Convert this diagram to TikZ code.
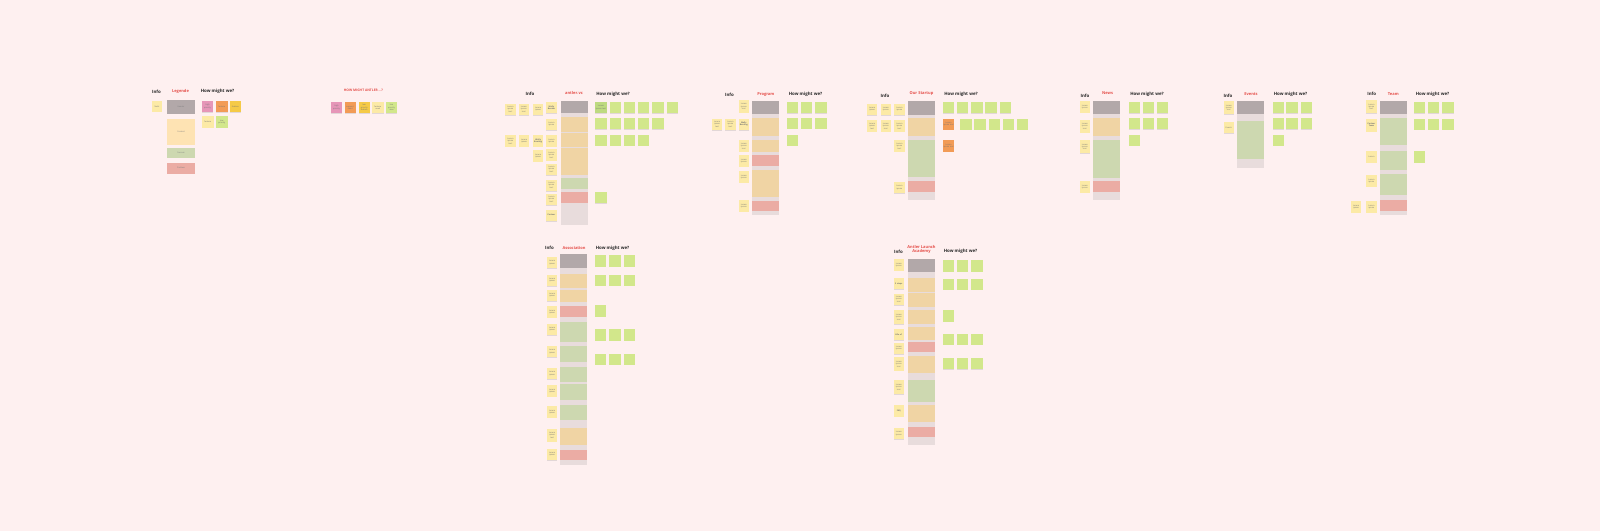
\documentclass[tikz,border=0pt]{standalone}
\usepackage{fontspec}
\setmainfont{Open Sans}
\usetikzlibrary{shadows}
\definecolor{bg}{HTML}{FEF0F0}
\definecolor{colbg}{HTML}{E8DCDC}
\definecolor{hdr}{HTML}{B2A8A9}
\definecolor{tan}{HTML}{F0D4A4}
\definecolor{sage}{HTML}{CDD8B0}
\definecolor{rose}{HTML}{EBACA4}
\definecolor{legtan}{HTML}{FEE3B3}
\definecolor{yel}{HTML}{FCEAA6}
\definecolor{lime}{HTML}{D2E78B}
\definecolor{limed}{HTML}{BEDA80}
\definecolor{orn}{HTML}{F29B56}
\definecolor{pnk}{HTML}{E696B8}
\definecolor{gold}{HTML}{F5CA47}
\definecolor{titlered}{HTML}{E5504B}
\newcommand\bcol[3]{\fill[colbg] (#1,#2) rectangle ({#1+27},#3);}
\newcommand\bsec[4]{\fill[#1] (#2,#3) rectangle ({#2+27},#4);}
\begin{document}
\begin{tikzpicture}[x=1pt,y=-1pt,
  ttl/.style={font=\fontsize{4.4}{5}\selectfont\bfseries, text=black!85, inner sep=0},
  rttl/.style={font=\fontsize{4}{4.6}\selectfont\bfseries, text=titlered, inner sep=0, align=center},
  stk/.style={anchor=north west, inner sep=0.3pt, align=center, font=\fontsize{2}{2.4}\selectfont, text=black!55,
    drop shadow={shadow xshift=0pt,shadow yshift=-0.5pt,opacity=0.22}},
  inf/.style={stk, fill=yel, minimum width=10.5pt, minimum height=11.5pt, text width=9.5pt},
  hmw/.style={stk, fill=lime, minimum width=11.3pt, minimum height=11.3pt, text width=10.5pt},
  lg/.style={anchor=north west, inner sep=0, font=\fontsize{2}{2.4}\selectfont, text=black!50, minimum width=28.3pt}
]
\useasboundingbox (0,0) rectangle (1600,531);
\fill[bg] (0,0) rectangle (1600,531);

% ---------------- Legend ----------------
\node[ttl] (lgi) at (156.5,91.5) {Info};
\node[rttl] (lgt) at (180.5,91.5) {Legende};
\node[ttl] (lgh) at (217.5,91.5) {How might we?};
\node[inf, minimum width=10pt, minimum height=11pt] (lgn) at (151.7,100.7) {Notiz};
\node[lg, fill=hdr, minimum height=13.3pt] (lg1) at (166.7,100) {Header};
\node[lg, fill=legtan, minimum height=26pt] (lg2) at (166.7,119) {Content};
\node[lg, fill=sage, minimum height=10pt] (lg3) at (166.7,148) {Success};
\node[lg, fill=rose, minimum height=10.6pt] (lg4) at (166.7,162.7) {Problem};
\node[hmw, fill=pnk] (lgp) at (201.7,100.7) {high priority};
\node[hmw, fill=orn] (lgo) at (216,100.7) {feature};
\node[hmw, fill=gold] (lgg) at (229.5,100.7) {feature};
\node[hmw, fill=yel] (lgy) at (202,116) {feature};
\node[hmw] (lgl) at (216,116) {low priority};

% ---------------- How might Antler ----------------
\node[font=\fontsize{3.3}{4}\selectfont\bfseries, text=titlered, inner sep=0] (hma) at (363.5,90.7) {HOW MIGHT ANTLER ...?};
\node[hmw, fill=pnk] (hm1) at (330.7,101.7) {high priority};
\node[hmw, fill=orn] (hm2) at (344.3,101.7) {support need};
\node[hmw, fill=gold] (hm3) at (358.3,101.7) {low priority feature};
\node[hmw, fill=yel] (hm4) at (372,101.7) {feature need};
\node[hmw] (hm5) at (385.7,101.7) {low priority idea};

% ---------------- Board 1 : antler.vc ----------------
\node[ttl] (b1i) at (530,94) {Info};
\node[rttl] (b1t) at (574,93.5) {antler.vc};
\node[ttl] (b1h) at (613,94) {How might we?};
\bcol{560.7}{100.7}{225}
\bsec{hdr}{560.7}{100.7}{113.3}
\bsec{tan}{560.7}{117.3}{131.7}
\bsec{tan}{560.7}{133.3}{146.7}
\bsec{tan}{560.7}{148.3}{175}
\bsec{sage}{560.7}{178.3}{189}
\bsec{rose}{560.7}{192.3}{203.3}
\node[inf] (b1a1) at (505,103.3) {Lorem ipsum text};
\node[inf] (b1a2) at (518.3,103.3) {Lorem ipsum text};
\node[inf] (b1a3) at (532.7,103.3) {Lorem ipsum};
\node[inf] (b1a4) at (546,101.7) {\textbf{Wally Bunker}};
\node[inf] (b1b4) at (546,118.3) {Lorem ipsum};
\node[inf] (b1c1) at (505,135) {Lorem ipsum text};
\node[inf] (b1c2) at (518.7,135) {Lorem ipsum};
\node[inf] (b1c3) at (532.7,135) {\textbf{Wally Bunting}};
\node[inf] (b1c4) at (546,135) {Lorem ipsum};
\node[inf] (b1d3) at (532.7,150) {Lorem ipsum};
\node[inf] (b1d4) at (546,149) {Lorem ipsum text};
\node[inf] (b1e4) at (546,163.3) {Lorem ipsum text};
\node[inf] (b1f4) at (546,179.3) {Lorem ipsum text};
\node[inf] (b1g4) at (546,193.3) {Lorem ipsum text};
\node[inf] (b1h4) at (546,209.3) {\textbf{Partner}};
\node[hmw, fill=limed] (b1h0) at (595,101.7) {Lorem ipsum text};
\foreach \x [count=\i] in {609.3,623.6,637.9,652.2,666.5} \node[hmw] (b1r1n\i) at (\x,101.7) {};
\foreach \x [count=\i] in {595,609.3,623.6,637.9,652.2} \node[hmw] (b1r2n\i) at (\x,117.7) {};
\foreach \x [count=\i] in {595,609.3,623.6,637.9} \node[hmw] (b1r3n\i) at (\x,134.3) {};
\node[hmw] (b1r4n1) at (595,191.7) {};

% ---------------- Program ----------------
\node[ttl] (b2i) at (729.5,95) {Info};
\node[rttl] (b2t) at (765.8,94.3) {Program};
\node[ttl] (b2h) at (805.5,94.3) {How might we?};
\bcol{752.3}{100.7}{215}
\bsec{hdr}{752.3}{100.7}{114.3}
\bsec{tan}{752.3}{118.3}{135.7}
\bsec{tan}{752.3}{140}{151.7}
\bsec{rose}{752.3}{155}{165.7}
\bsec{tan}{752.3}{170}{196.7}
\bsec{rose}{752.3}{200.7}{211}
\node[inf, minimum height=12.3pt] (b2a) at (738.3,100) {Lorem ipsum text};
\node[inf] (b2b) at (738.3,118.3) {\textbf{Wally Bunting}};
\node[inf] (b2c) at (738.3,140) {Lorem ipsum text};
\node[inf] (b2d) at (738.3,155) {Lorem ipsum};
\node[inf] (b2e) at (738.3,171) {Lorem ipsum};
\node[inf] (b2f) at (738.3,200) {Lorem ipsum};
\node[inf] (b2g) at (711.7,118.3) {Lorem ipsum text};
\node[inf] (b2h2) at (725,118.3) {Lorem ipsum text};
\foreach \x [count=\i] in {786.7,800.7,815} \node[hmw] (b2r1n\i) at (\x,101.7) {};
\foreach \x [count=\i] in {786.7,800.7,815} \node[hmw] (b2r2n\i) at (\x,117.3) {};
\node[hmw] (b2r3n1) at (786.7,134.3) {};

% ---------------- Our Startup ----------------
\node[ttl] (b3i) at (885,96) {Info};
\node[rttl] (b3t) at (921.5,93.3) {Our Startup};
\node[ttl] (b3h) at (961,94.3) {How might we?};
\bcol{908.3}{100.7}{200}
\bsec{hdr}{908.3}{100.7}{115}
\bsec{tan}{908.3}{118.3}{135.7}
\bsec{sage}{908.3}{140}{176.7}
\bsec{rose}{908.3}{181}{191.7}
\foreach \x [count=\i] in {866.7,880.3,894} \node[inf] (b3a\i) at (\x,103.3) {Lorem ipsum};
\foreach \x [count=\i] in {866.7,880.3,894} \node[inf] (b3b\i) at (\x,120) {Lorem ipsum text};
\node[inf] (b3c) at (894,140) {Lorem ipsum text};
\node[inf] (b3d) at (894,181.7) {Lorem ipsum};
\foreach \x [count=\i] in {942.7,956.7,971,985,999.3} \node[hmw] (b3r1n\i) at (\x,101.7) {};
\node[hmw, fill=orn] (b3o1) at (942.7,118.3) {Lorem ipsum text};
\foreach \x [count=\i] in {960,974,988.3,1002.3,1016.3} \node[hmw] (b3r2n\i) at (\x,118.3) {};
\node[hmw, fill=orn] (b3o2) at (942.7,140) {Lorem ipsum text};

% ---------------- News ----------------
\node[ttl] (b4i) at (1085,96) {Info};
\node[rttl] (b4t) at (1107.5,93.3) {News};
\node[ttl] (b4h) at (1147,94.3) {How might we?};
\bcol{1093.3}{100.7}{200}
\bsec{hdr}{1093.3}{100.7}{114.3}
\bsec{tan}{1093.3}{117.7}{135.7}
\bsec{sage}{1093.3}{140}{177.7}
\bsec{rose}{1093.3}{181}{191.7}
\node[inf] (b4a) at (1079.3,101) {Lorem ipsum};
\node[inf, minimum height=13pt] (b4b) at (1079.3,119.3) {Lorem ipsum text};
\node[inf, minimum height=13pt] (b4c) at (1079.3,140) {Lorem ipsum text};
\node[inf] (b4d) at (1079.3,181) {Lorem ipsum};
\foreach \x [count=\i] in {1128.3,1142.3,1156.7} \node[hmw] (b4r1n\i) at (\x,101.7) {};
\foreach \x [count=\i] in {1128.3,1142.3,1156.7} \node[hmw] (b4r2n\i) at (\x,117.7) {};
\node[hmw] (b4r3n1) at (1128.3,134.3) {};

% ---------------- Events ----------------
\node[ttl] (b5i) at (1228,96) {Info};
\node[rttl] (b5t) at (1251,94.3) {Events};
\node[ttl] (b5h) at (1290.5,94.3) {How might we?};
\bcol{1237.3}{100.7}{167.7}
\bsec{hdr}{1237.3}{100.7}{114.3}
\bsec{sage}{1237.3}{121}{159}
\node[inf, minimum height=13pt] (b5a) at (1223.3,101) {Lorem ipsum text};
\node[inf] (b5b) at (1223.3,121.7) {Events};
\foreach \x [count=\i] in {1272.3,1286,1300.3} \node[hmw] (b5r1n\i) at (\x,101.7) {};
\foreach \x [count=\i] in {1272.3,1286,1300.3} \node[hmw] (b5r2n\i) at (\x,117.7) {};
\node[hmw] (b5r3n1) at (1272.3,134.3) {};

% ---------------- Team ----------------
\node[ttl] (b6i) at (1371.7,94.3) {Info};
\node[rttl] (b6t) at (1393.3,94.3) {Team};
\node[ttl] (b6h) at (1432.5,94.3) {How might we?};
\bcol{1380}{100.7}{215}
\bsec{hdr}{1380}{100.7}{114.3}
\bsec{sage}{1380}{118.3}{145}
\bsec{sage}{1380}{150.7}{170}
\bsec{sage}{1380}{174.3}{195}
\bsec{rose}{1380}{200}{211}
\node[inf, minimum height=13pt] (b6a) at (1366,100) {Lorem ipsum text};
\node[inf, minimum height=13pt] (b6b) at (1366,118.3) {\textbf{Partner Team}};
\node[inf] (b6c) at (1366,151) {Lorem};
\node[inf] (b6d) at (1366,175) {Lorem ipsum};
\node[inf] (b6e) at (1366,201) {Lorem ipsum};
\node[inf] (b6f) at (1350.7,201) {Lorem ipsum};
\foreach \x [count=\i] in {1413.3,1427.7,1442} \node[hmw] (b6r1n\i) at (\x,101.7) {};
\foreach \x [count=\i] in {1413.3,1427.7,1442} \node[hmw] (b6r2n\i) at (\x,118.3) {};
\node[hmw] (b6r3n1) at (1413.3,151) {};

% ---------------- Association ----------------
\node[ttl] (b7i) at (549.5,248.3) {Info};
\node[rttl] (b7t) at (574,248.3) {Association};
\node[ttl] (b7h) at (612.5,248.3) {How might we?};
\bcol{560}{254.3}{465}
\bsec{hdr}{560}{254.3}{268.3}
\bsec{tan}{560}{274}{288.3}
\bsec{tan}{560}{290}{301.7}
\bsec{rose}{560}{305.7}{316.7}
\bsec{sage}{560}{322.3}{342.3}
\bsec{sage}{560}{345.7}{361.7}
\bsec{sage}{560}{366.7}{381.7}
\bsec{sage}{560}{384.3}{400}
\bsec{sage}{560}{405}{420}
\bsec{tan}{560}{427.7}{445}
\bsec{rose}{560}{450}{460}
\foreach \y [count=\i] in {256.7,274.3,289.3,306,323.3,345.7,367.7,385,406,448.3} \node[inf] (b7n\i) at (546.7,\y) {Lorem ipsum};
\node[inf, minimum height=13pt] (b7x) at (546.7,428.3) {Lorem ipsum text};
\foreach \x [count=\i] in {594.3,609,623.3} \node[hmw] (b7r1n\i) at (\x,255) {};
\foreach \x [count=\i] in {594.3,609,623.3} \node[hmw] (b7r2n\i) at (\x,274.3) {};
\node[hmw] (b7r3n1) at (594.3,305) {};
\foreach \x [count=\i] in {594.3,609,623.3} \node[hmw] (b7r4n\i) at (\x,329) {};
\foreach \x [count=\i] in {594.3,609,623.3} \node[hmw] (b7r5n\i) at (\x,353.3) {};

% ---------------- Antler Launch Academy ----------------
\node[ttl] (b8i) at (898.5,251.7) {Info};
\node[rttl] (b8t) at (921.5,249.5) {Antler Launch\\Academy};
\node[ttl] (b8h) at (960.5,251.7) {How might we?};
\bcol{907.7}{259}{445}
\bsec{hdr}{907.7}{259}{272.3}
\bsec{tan}{907.7}{277.7}{291.7}
\bsec{tan}{907.7}{293.3}{306.7}
\bsec{tan}{907.7}{310}{324.3}
\bsec{tan}{907.7}{326.7}{340}
\bsec{rose}{907.7}{342.3}{351.7}
\bsec{tan}{907.7}{355.7}{373.3}
\bsec{sage}{907.7}{380}{401.7}
\bsec{tan}{907.7}{405}{421.7}
\bsec{rose}{907.7}{426.7}{436.7}
\node[inf] (b8n1) at (893.3,259) {Lorem ipsum};
\node[inf] (b8n2) at (893.3,277.7) {\textbf{5 steps}};
\node[inf] (b8n3) at (893.3,293.3) {Lorem ipsum text};
\node[inf, minimum height=14pt] (b8n4) at (893.3,310) {Lorem ipsum text};
\node[inf] (b8n5) at (893.3,328.3) {\textbf{Alle of}};
\node[inf] (b8n6) at (893.3,342.3) {Lorem ipsum};
\node[inf, minimum height=14pt] (b8n7) at (893.3,356.7) {Lorem ipsum text};
\node[inf, minimum height=14pt] (b8n8) at (893.3,380) {Lorem ipsum text};
\node[inf] (b8n9) at (893.3,405) {\textbf{FAQ}};
\node[inf] (b8n10) at (893.3,427.7) {Lorem ipsum};
\foreach \x [count=\i] in {942.7,956.7,971} \node[hmw] (b8r1n\i) at (\x,260) {};
\foreach \x [count=\i] in {942.7,956.7,971} \node[hmw] (b8r2n\i) at (\x,278.3) {};
\node[hmw] (b8r3n1) at (942.7,310) {};
\foreach \x [count=\i] in {942.7,956.7,971} \node[hmw] (b8r4n\i) at (\x,333.3) {};
\foreach \x [count=\i] in {942.7,956.7,971} \node[hmw] (b8r5n\i) at (\x,357.7) {};
\end{tikzpicture}
\end{document}
